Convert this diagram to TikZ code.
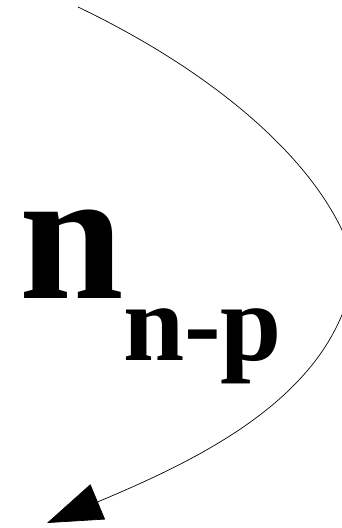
\documentclass[tikz,border=0pt]{standalone}
\usepackage{fontspec}
\setmainfont{Liberation Serif}
\usetikzlibrary{arrows.meta}
\begin{document}
\begin{tikzpicture}[x=1pt,y=-1pt,
  lbl/.style={inner sep=0pt,anchor=base west,font=\bfseries},
  curve/.style={draw=black,line width=0.7pt}]
\useasboundingbox (0,0) rectangle (342,528);
\node[lbl,font=\bfseries\fontsize{188}{188}\selectfont] (big) at (19,298) {n};
\node[lbl,font=\bfseries\fontsize{110}{110}\selectfont] (sub) at (123,360) {n-p};
\coordinate (s) at (78,7);
\coordinate (m) at (355,265);
\coordinate (e) at (47,523);
\begin{scope}
\clip (0,0) rectangle (342,528);
\draw[curve] (s) .. controls (220,75) and (330,170) .. (m);
\draw[curve,-{Triangle[length=55pt,width=38pt]}] (m) .. controls (340,390) and (210,455) .. (e);
\end{scope}
\end{tikzpicture}
\end{document}
